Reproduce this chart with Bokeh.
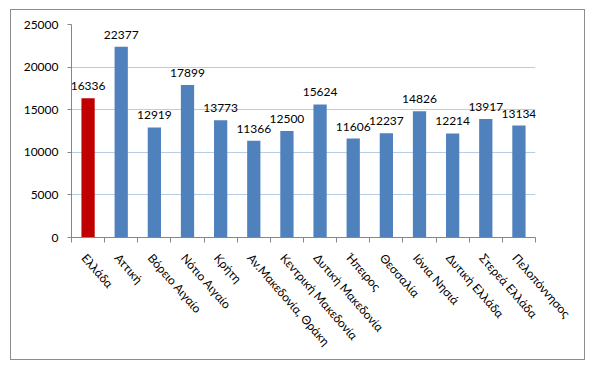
from bokeh.plotting import figure
from bokeh.models import Range1d, FixedTicker, ColumnDataSource
from bokeh.embed import file_html
from bokeh.resources import INLINE
from bokeh.core.properties import value

regions = ["Ελλάδα", "Αττική", "Βόρειο Αιγαίο", "Νότιο Αιγαίο", "Κρήτη",
           "Αν.Μακεδονία, Θράκη", "Κεντρική Μακεδονία", "Δυτική Μακεδονία",
           "Ήπειρος", "Θεσσαλία", "Ιόνια Νησιά", "Δυτική Ελλάδα",
           "Στερεά Ελλάδα", "Πελοπόννησος"]
values = [16336, 22377, 12919, 17899, 13773, 11366, 12500, 15624,
          11606, 12237, 14826, 12214, 13917, 13134]
colors = ["#c00000"] + ["#4f81bd"] * (len(regions) - 1)
y_ticks = [0, 5000, 10000, 15000, 20000, 25000]

xs = [i + 0.5 for i in range(len(regions))]
label_pos = [x - 0.12 for x in xs]
src = ColumnDataSource(dict(x=xs, v=values, c=colors,
                            t=[str(v) for v in values]))

FONT = "Lato"
W, H = 575, 351

p = figure(width=W, height=H, output_backend="svg", toolbar_location=None,
           x_range=Range1d(0, len(regions)), y_range=Range1d(0, 25000))
p.styles = {"border": "1px solid #8c8c8c", "margin-left": "10px", "margin-top": "9px"}
p.min_border_left = 60
p.min_border_right = 51
p.min_border_top = 14
p.min_border_bottom = 124
p.outline_line_color = None
p.background_fill_color = "white"
p.border_fill_color = "white"

p.vbar(x="x", top="v", width=0.4, fill_color="c", line_color=None, source=src)
p.text(x="x", y="v", text="t", source=src, text_align="center",
       text_baseline="bottom", y_offset=-8, text_font=value(FONT),
       text_font_size="12px", text_color="#000000")

# grid
p.xgrid.grid_line_color = None
p.ygrid.grid_line_color = "#b8cce4"
p.ygrid.grid_line_width = 1
p.ygrid.ticker = FixedTicker(ticks=y_ticks)

# y axis
ya = p.yaxis[0]
ya.ticker = FixedTicker(ticks=y_ticks)
ya.axis_line_color = "#868686"
ya.major_tick_line_color = "#868686"
ya.major_tick_out = 4
ya.major_tick_in = 0
ya.minor_tick_line_color = None
ya.major_label_text_font = FONT
ya.major_label_text_font_size = "12px"
ya.major_label_text_color = "#000000"
ya.major_label_standoff = 9

# x axis
xa = p.xaxis[0]
xa.ticker = FixedTicker(ticks=label_pos, minor_ticks=list(range(len(regions) + 1)))
xa.major_label_overrides = {x: r for x, r in zip(label_pos, regions)}
xa.axis_line_color = "#868686"
xa.major_tick_line_color = None
xa.major_tick_out = 0
xa.major_tick_in = 0
xa.minor_tick_line_color = "#868686"
xa.minor_tick_out = 5
xa.minor_tick_in = 0
xa.major_label_orientation = -0.85
xa.major_label_text_font = FONT
xa.major_label_text_font_size = "12px"
xa.major_label_text_color = "#000000"
xa.major_label_standoff = 13

open("out.html", "w").write(file_html(p, INLINE))
